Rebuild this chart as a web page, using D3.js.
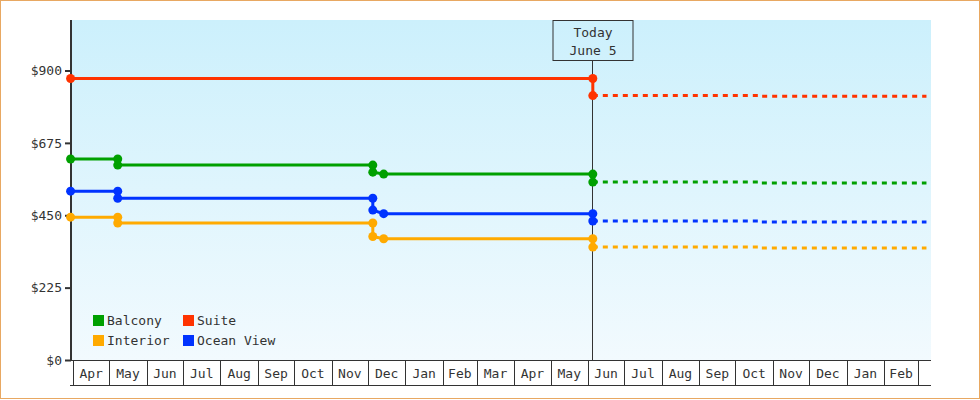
<!DOCTYPE html>
<html>
<head>
<meta charset="utf-8">
<script src="https://cdn.jsdelivr.net/npm/d3@7"></script>
<style>
	body { margin: 0; background: #fff; }
	svg { display: block; font-family: "DejaVu Sans Mono", monospace; font-size: 13px; }
	text { fill: #333; }
</style>
</head>
<body>
<svg id="chart" width="980" height="400"></svg>
<script>
const W = 980, H = 400;

// price history (solid, with markers)
const histDates = ['2013-03-30', '2013-05-08', '2013-05-08', '2013-12-05', '2013-12-05', '2013-12-14', '2014-06-05', '2014-06-05'];
const balconyHist = [625, 625, 606, 606, 584, 578, 578, 553];
const interiorHist = [444, 444, 426, 426, 384, 377, 377, 351];
const oceanHist = [525, 525, 503, 503, 466, 455, 455, 432];
const suiteDates = ['2013-03-30', '2014-06-05', '2014-06-05'];
const suiteHist = [875, 875, 822];

// forecast (dashed, no markers)
const fcDates = ['2014-06-05', '2014-10-21', '2014-10-21', '2015-03-08'];
const balconyFc = [553, 553, 550, 550];
const interiorFc = [351, 351, 348, 348];
const oceanFc = [432, 432, 429, 429];
const suiteFc = [822, 822, 820, 820];

const names = ['Balcony', 'Suite', 'Interior', 'Ocean View'];
const colors = { 'Balcony': '#00a000', 'Suite': '#ff3300', 'Interior': '#ffaa00', 'Ocean View': '#0033ff' };
const yTicks = [0, 225, 450, 675, 900];
const todayDate = '2014-06-05';
const todayLabel = ['Today', 'June 5'];
const monthStart = '2013-04-01', monthEnd = '2015-03-01';

const parse = d3.timeParse('%Y-%m-%d');
const zip = (ds, vs) => ds.map((d, i) => ({ date: parse(d), price: vs[i] }));

let series = [
	{ name: 'Balcony', hist: zip(histDates, balconyHist), fc: zip(fcDates, balconyFc) },
	{ name: 'Suite', hist: zip(suiteDates, suiteHist), fc: zip(fcDates, suiteFc) },
	{ name: 'Ocean View', hist: zip(histDates, oceanHist), fc: zip(fcDates, oceanFc) },
	{ name: 'Interior', hist: zip(histDates, interiorHist), fc: zip(fcDates, interiorFc) },
];

const plot = { left: 71, right: 931, top: 20, bottom: 360 };

let x = d3.scaleTime().domain([parse(monthStart), parse(monthEnd)]).range([73, 918]);
let y = d3.scaleLinear().domain([0, 1057]).range([plot.bottom, plot.top]);

let svg = d3.select('#chart');

// outer frame
svg.append('rect')
	.attr('x', 0.5).attr('y', 0.5)
	.attr('width', W - 1).attr('height', H - 2)
	.attr('fill', '#fff')
	.attr('stroke', '#e8a862');

let defs = svg.append('defs');
let grad = defs.append('linearGradient')
	.attr('id', 'bg')
	.attr('x1', 0).attr('y1', 0).attr('x2', 0).attr('y2', 1);
grad.append('stop').attr('offset', '0%').attr('stop-color', '#ccf0fc');
grad.append('stop').attr('offset', '100%').attr('stop-color', '#f2fafe');

svg.append('rect')
	.attr('x', plot.left).attr('y', plot.top)
	.attr('width', plot.right - plot.left).attr('height', plot.bottom - plot.top)
	.attr('fill', 'url(#bg)');

// month boxes along the bottom
let months = d3.timeMonth.range(parse(monthStart), d3.timeDay.offset(parse(monthEnd), 1));
let xg = svg.append('g').attr('class', 'x axis');
xg.append('line')
	.attr('x1', 70).attr('x2', plot.right)
	.attr('y1', 360.5).attr('y2', 360.5)
	.attr('stroke', '#333');
xg.append('line')
	.attr('x1', 70).attr('x2', plot.right)
	.attr('y1', 385.5).attr('y2', 385.5)
	.attr('stroke', '#333');
xg.selectAll('line.sep')
	.data(months)
	.enter().append('line')
		.attr('class', 'sep')
		.attr('x1', (d) => Math.round(x(d)) + 0.5)
		.attr('x2', (d) => Math.round(x(d)) + 0.5)
		.attr('y1', 360).attr('y2', 385)
		.attr('stroke', '#333');
xg.selectAll('text')
	.data(months.slice(0, -1))
	.enter().append('text')
		.attr('x', (d) => (x(d) + x(d3.timeMonth.offset(d, 1))) / 2)
		.attr('y', 378)
		.attr('text-anchor', 'middle')
		.text(d3.timeFormat('%b'));

// y axis
let yAxis = d3.axisLeft(y).tickValues(yTicks).tickSize(6).tickPadding(3)
	.tickFormat((d) => '$' + d);
let yg = svg.append('g')
	.attr('class', 'y axis')
	.attr('transform', 'translate(71,0)')
	.call(yAxis);
yg.select('.domain').remove();
yg.selectAll('.tick line').attr('stroke', '#333').attr('stroke-width', 2);
yg.selectAll('.tick text')
	.attr('fill', '#333')
	.style('font-family', '"DejaVu Sans Mono", monospace')
	.style('font-size', '13px');
svg.append('line')
	.attr('x1', 71).attr('x2', 71)
	.attr('y1', plot.top).attr('y2', plot.bottom + 1)
	.attr('stroke', '#333').attr('stroke-width', 2);

// today marker
let tx = Math.round(x(parse(todayDate))) - 0.5;
svg.append('line')
	.attr('x1', tx).attr('x2', tx)
	.attr('y1', 60).attr('y2', plot.bottom)
	.attr('stroke', '#333');
svg.append('rect')
	.attr('x', tx - 39.5).attr('y', 20.5)
	.attr('width', 80).attr('height', 40)
	.attr('fill', 'none')
	.attr('stroke', '#333');
svg.selectAll('text.today')
	.data(todayLabel)
	.enter().append('text')
		.attr('class', 'today')
		.attr('x', tx + 0.5)
		.attr('y', (d, i) => 37 + i * 18)
		.attr('text-anchor', 'middle')
		.text((d) => d);

// lines
let line = d3.line().x((d) => x(d.date)).y((d) => y(d.price));
let lines = svg.append('g');
series.forEach((s) => {
	lines.append('path')
		.attr('d', line(s.fc))
		.attr('fill', 'none')
		.attr('stroke', colors[s.name])
		.attr('stroke-width', 3)
		.attr('stroke-dasharray', '5,5');
	lines.append('path')
		.attr('d', line(s.hist))
		.attr('fill', 'none')
		.attr('stroke', colors[s.name])
		.attr('stroke-width', 3);
	lines.selectAll(null)
		.data(s.hist)
		.enter().append('circle')
			.attr('cx', (d) => x(d.date))
			.attr('cy', (d) => y(d.price))
			.attr('r', 4.5)
			.attr('fill', colors[s.name]);
});

// legend
let legend = svg.append('g').attr('transform', 'translate(93,315)');
let items = legend.selectAll('g')
	.data(names)
	.enter().append('g')
		.attr('transform', (d, i) => `translate(${(i % 2) * 90},${Math.floor(i / 2) * 20})`);
items.append('rect')
	.attr('width', 11).attr('height', 11)
	.attr('fill', (d) => colors[d]);
items.append('text')
	.attr('x', 14).attr('y', 10)
	.text((d) => d);
</script>
</body>
</html>
